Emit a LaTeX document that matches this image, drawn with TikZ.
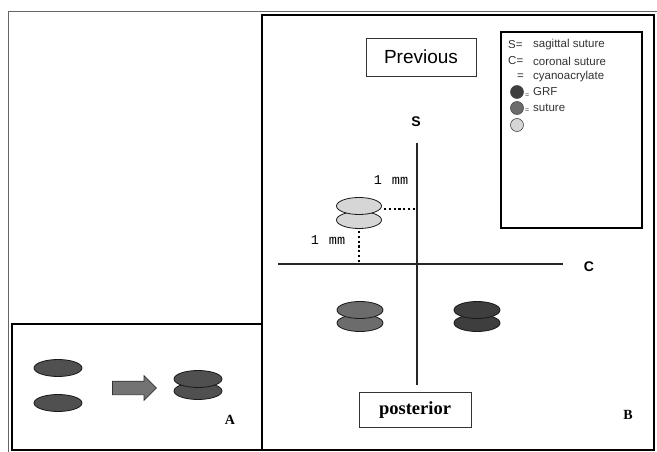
\documentclass[tikz,border=0pt]{standalone}
\usepackage{fontspec}
\setmainfont{Liberation Serif}
\setsansfont{Liberation Sans}
\setmonofont{Liberation Mono}
\usetikzlibrary{shapes.geometric,shapes.arrows}
\definecolor{darkdisc}{HTML}{3E3E3E}
\definecolor{meddisc}{HTML}{6C6C6C}
\definecolor{adisc}{HTML}{505050}
\definecolor{lightdisc}{HTML}{D6D6D6}
\begin{document}
\begin{tikzpicture}[x=1pt,y=-1pt,
  disc/.style={ellipse, draw=black!90, line width=0.8pt, minimum width=46pt, minimum height=17pt, inner sep=0pt},
  panel/.style={draw=black, line width=1.6pt},
  labelbox/.style={draw=black!80, line width=0.8pt, inner sep=0pt},
  axis/.style={draw=black!85, line width=1.1pt},
  dots/.style={draw=black, line width=2.2pt, dash pattern=on 2.2pt off 2.6pt},
  legtxt/.style={anchor=west, font=\sffamily\fontsize{11.5}{13}\selectfont, text=black!80, inner sep=0pt},
  dot/.style={circle, draw=black!70, line width=0.6pt, minimum size=13pt, inner sep=0pt},
  mmtxt/.style={font=\ttfamily\fontsize{13.5}{15}\selectfont, inner sep=0pt},
  axtxt/.style={font=\sffamily\bfseries\fontsize{14}{16}\selectfont, inner sep=0pt},
  pantxt/.style={font=\bfseries\fontsize{14}{16}\selectfont, inner sep=0pt}]
\useasboundingbox (0,0) rectangle (657,452);
\fill[white] (0,0) rectangle (657,452);
% outer frame
\draw[black!60, line width=0.8pt] (8,452) -- (8,11) -- (657,11);
% panels
\draw[panel] (12,324) rectangle (262,450);
\draw[panel] (262,15) rectangle (654,450);
% Panel A
\node[disc, fill=adisc, minimum width=48pt] (a1) at (58,368) {};
\node[disc, fill=adisc, minimum width=48pt] (a2) at (58,403) {};
\node[single arrow, draw=black!80, fill=black!55, line width=0.7pt, minimum height=44pt, inner xsep=0pt, inner ysep=6.5pt, single arrow head extend=5.5pt, single arrow tip angle=90] (arr) at (131,388) {};
\node[disc, fill=adisc, minimum width=48pt] (a4) at (198,391) {};
\node[disc, fill=adisc, minimum width=48pt] (a3) at (198,379) {};
\node[pantxt] (labA) at (230,420) {A};
% Panel B boxes
\node[labelbox, minimum width=110pt, minimum height=38pt, font=\sffamily\fontsize{19}{21}\selectfont] (prev) at (421,57) {Previous};
\node[labelbox, minimum width=112pt, minimum height=35pt, font=\bfseries\fontsize{18.5}{20}\selectfont] (post) at (415,410) {posterior};
% legend
\draw[black, line width=1.6pt] (501,32) rectangle (642,228);
\node[legtxt] (lS) at (508,45) {S=};
\node[legtxt] (lC) at (508,61) {C=};
\node[legtxt] (lQ) at (517,77) {=};
\node[dot, fill=darkdisc] (dG) at (517,92) {};
\node[dot, fill=meddisc] (dS) at (517,108) {};
\node[dot, fill=lightdisc] (dC) at (517,125) {};
\node[legtxt, font=\sffamily\fontsize{7}{8}\selectfont] (eG) at (525,96) {=};
\node[legtxt, font=\sffamily\fontsize{7}{8}\selectfont] (eS) at (525,111) {=};
\node[legtxt] (t1) at (533,45) {sagittal suture};
\node[legtxt] (t2) at (533,61) {coronal suture};
\node[legtxt] (t3) at (533,77) {cyanoacrylate};
\node[legtxt] (t4) at (533,92) {GRF};
\node[legtxt] (t5) at (533,108) {suture};
% axes
\coordinate (sTop) at (417,143);
\coordinate (sBot) at (417,385);
\coordinate (cL) at (278,264);
\coordinate (cR) at (563,264);
\draw[axis] (sTop) -- (sBot);
\draw[axis] (cL) -- (cR);
\node[axtxt] (S) at (416,122) {S};
\node[axtxt] (C) at (589,267) {C};
% light discs
\node[disc, fill=lightdisc, minimum width=45pt] (l2) at (359,220) {};
\node[disc, fill=lightdisc, minimum width=45pt] (l1) at (359,206) {};
\coordinate (hEnd) at (416,209);
\coordinate (vEnd) at (359,263);
\draw[dots] (l1.east |- hEnd) ++(2,0) -- (hEnd);
\draw[dots] (l2.south) ++(0,2) -- (vEnd);
\node[mmtxt] (mm1) at (391,180) {1\hspace{10pt}mm};
\node[mmtxt] (mm2) at (328,240) {1\hspace{10pt}mm};
% bottom discs
\node[disc, fill=meddisc] (m2) at (360,323) {};
\node[disc, fill=meddisc] (m1) at (360,310) {};
\node[disc, fill=darkdisc] (k2) at (477,323) {};
\node[disc, fill=darkdisc] (k1) at (477,310) {};
\node[pantxt] (labB) at (628,415) {B};
\end{tikzpicture}
\end{document}
